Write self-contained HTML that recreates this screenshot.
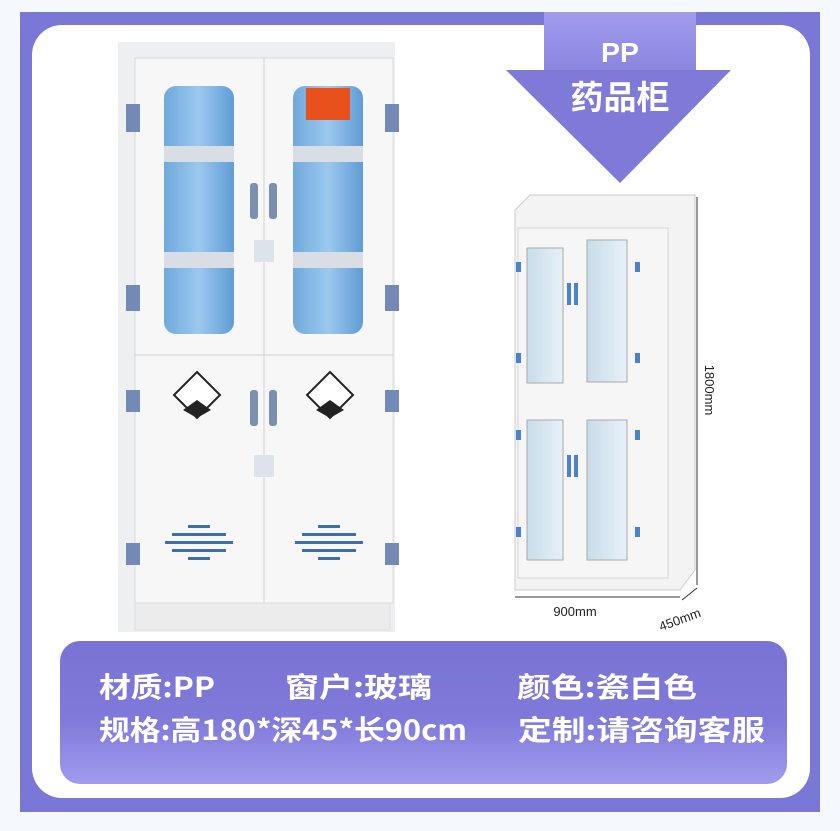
<!DOCTYPE html>
<html><head><meta charset="utf-8"><style>
body{margin:0;width:840px;height:826px;background:#f5f8fc;overflow:hidden;font-family:"Liberation Sans","Noto Sans CJK SC",sans-serif}
</style></head><body>
<svg width="840" height="826" viewBox="0 0 840 826" xmlns="http://www.w3.org/2000/svg">
<defs>
<linearGradient id="pn" x1="0" y1="0" x2="0" y2="1"><stop offset="0" stop-color="#7a73d3"/><stop offset="0.55" stop-color="#7f79da"/><stop offset="1" stop-color="#a19cec"/></linearGradient>
<linearGradient id="ar" x1="0" y1="0" x2="0" y2="1"><stop offset="0" stop-color="#a19cec"/><stop offset="1" stop-color="#8a84e0"/></linearGradient>
<linearGradient id="gl" x1="0" y1="0" x2="1" y2="0"><stop offset="0" stop-color="#6fa9dc"/><stop offset="0.5" stop-color="#9cc8ee"/><stop offset="1" stop-color="#5f9cd6"/></linearGradient>
<linearGradient id="g2" x1="0" y1="0" x2="1" y2="0"><stop offset="0" stop-color="#c8dcea"/><stop offset="1" stop-color="#e9f1f7"/></linearGradient>
</defs>
<rect x="20" y="12" width="800" height="800" fill="#7b77d6"/>
<rect x="32" y="25" width="778" height="773" rx="30" fill="#fff"/>
<!-- arrow -->
<rect x="544" y="12" width="152" height="60" fill="url(#ar)"/>
<polygon points="506,70 731,70 620,183" fill="#7f79d8"/>
<rect x="551" y="70" width="138" height="40" fill="#7f79d8"/>
<text x="620" y="62" fill="#fff" font-size="28" font-weight="bold" text-anchor="middle" textLength="38" lengthAdjust="spacingAndGlyphs">PP</text>
<text x="620" y="109" fill="#fff" font-size="33" font-weight="bold" text-anchor="middle" font-family="Noto Sans CJK SC,sans-serif">药品柜</text>
<!-- left cabinet -->
<rect x="118" y="42" width="277" height="590" fill="#eeeff0"/>
<rect x="135" y="58" width="258" height="545" fill="#f7f7f7" stroke="#d8d8d8"/>
<line x1="264" y1="58" x2="264" y2="603" stroke="#d0d0d0"/>
<line x1="135" y1="355" x2="393" y2="355" stroke="#d0d0d0"/>
<rect x="135" y="603" width="255" height="27" fill="#ececec" stroke="#ddd"/>
<rect x="164" y="86" width="70" height="248" rx="12" fill="url(#gl)"/>
<rect x="293" y="86" width="70" height="248" rx="12" fill="url(#gl)"/>
<rect x="164" y="146" width="70" height="16" fill="#d8dee4"/><rect x="293" y="146" width="70" height="16" fill="#d8dee4"/>
<rect x="164" y="252" width="70" height="16" fill="#d8dee4"/><rect x="293" y="252" width="70" height="16" fill="#d8dee4"/>
<rect x="306" y="88" width="44" height="32" fill="#e8501c"/>
<rect x="250" y="183" width="8" height="36" rx="3" fill="#7b8fb0"/><rect x="269" y="183" width="8" height="36" rx="3" fill="#7b8fb0"/>
<rect x="250" y="390" width="8" height="36" rx="3" fill="#7b8fb0"/><rect x="269" y="390" width="8" height="36" rx="3" fill="#7b8fb0"/>
<rect x="254" y="240" width="20" height="22" fill="#dde3ea"/><rect x="254" y="455" width="20" height="22" fill="#dde3ea"/>
<g fill="#7389b6"><rect x="126" y="104" width="14" height="28"/><rect x="126" y="285" width="14" height="26"/><rect x="126" y="390" width="14" height="22"/><rect x="126" y="543" width="14" height="22"/>
<rect x="385" y="104" width="14" height="28"/><rect x="385" y="285" width="14" height="26"/><rect x="385" y="390" width="14" height="22"/><rect x="385" y="543" width="14" height="22"/></g>
<polygon points="197,372 220,395 197,418 174,395" fill="#fff" stroke="#222" stroke-width="2"/><polygon points="197,400 211,410 197,418 183,410" fill="#222"/>
<polygon points="330,372 353,395 330,418 307,395" fill="#fff" stroke="#222" stroke-width="2"/><polygon points="330,400 344,410 330,418 316,410" fill="#222"/>
<g fill="#3d6fb4"><rect x="188" y="525" width="22" height="3"/><rect x="172" y="533" width="54" height="3"/><rect x="165" y="541" width="68" height="3"/><rect x="172" y="549" width="54" height="3"/><rect x="188" y="557" width="22" height="3"/>
<rect x="318" y="525" width="22" height="3"/><rect x="302" y="533" width="54" height="3"/><rect x="295" y="541" width="68" height="3"/><rect x="302" y="549" width="54" height="3"/><rect x="318" y="557" width="22" height="3"/></g>
<!-- right cabinet -->
<polygon points="515,210 530,195 695,195 695,570 680,590 515,590" fill="#f3f3f3" stroke="#ccc"/>
<rect x="518" y="228" width="150" height="350" fill="#f6f6f6" stroke="#d5d5d5"/>
<rect x="527" y="248" width="36" height="135" fill="url(#g2)" stroke="#aaa"/>
<rect x="587" y="240" width="40" height="142" fill="url(#g2)" stroke="#aaa"/>
<rect x="527" y="420" width="36" height="140" fill="url(#g2)" stroke="#aaa"/>
<rect x="587" y="420" width="40" height="140" fill="url(#g2)" stroke="#aaa"/>
<g fill="#4a82d0"><rect x="567" y="283" width="4" height="22"/><rect x="574" y="283" width="4" height="22"/><rect x="567" y="455" width="4" height="22"/><rect x="574" y="455" width="4" height="22"/>
<rect x="516" y="262" width="5" height="10"/><rect x="516" y="353" width="5" height="10"/><rect x="516" y="430" width="5" height="10"/><rect x="516" y="527" width="5" height="10"/>
<rect x="635" y="262" width="5" height="10"/><rect x="635" y="353" width="5" height="10"/><rect x="635" y="430" width="5" height="10"/><rect x="635" y="527" width="5" height="10"/></g>
<line x1="697" y1="197" x2="697" y2="585" stroke="#333"/>
<text x="705" y="390" font-size="13" fill="#222" transform="rotate(90 705 390)" text-anchor="middle">1800mm</text>
<line x1="515" y1="597" x2="680" y2="597" stroke="#333"/><line x1="682" y1="600" x2="697" y2="588" stroke="#333"/>
<text x="575" y="616" font-size="13" fill="#222" text-anchor="middle">900mm</text>
<text x="680" y="624" font-size="13" fill="#222" text-anchor="middle" transform="rotate(-20 680 620)">450mm</text>
<!-- info panel -->
<rect x="60" y="641" width="727" height="143" rx="20" fill="url(#pn)"/>
<g fill="#fff" font-size="28" font-weight="bold" font-family="Noto Sans CJK SC,sans-serif" lengthAdjust="spacingAndGlyphs">
<text x="99" y="697" textLength="116" lengthAdjust="spacingAndGlyphs">材质:PP</text>
<text x="285" y="697" textLength="147" lengthAdjust="spacingAndGlyphs">窗户:玻璃</text>
<text x="517" y="697" textLength="180" lengthAdjust="spacingAndGlyphs">颜色:瓷白色</text>
<text x="99" y="740" textLength="368" lengthAdjust="spacingAndGlyphs">规格:高180*深45*长90cm</text>
<text x="518" y="740" textLength="247" lengthAdjust="spacingAndGlyphs">定制:请咨询客服</text>
</g>
</svg>
</body></html>
